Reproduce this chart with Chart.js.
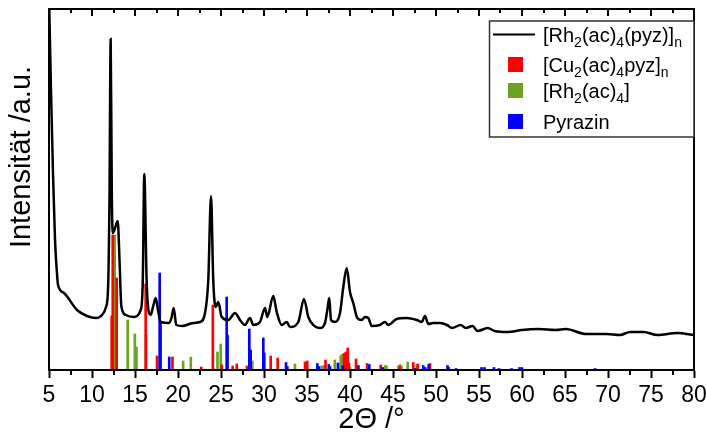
<!DOCTYPE html>
<html><head><meta charset="utf-8">
<script src="https://cdn.jsdelivr.net/npm/chart.js@4/dist/chart.umd.min.js"></script>
<style>html,body{margin:0;padding:0;background:#fff;}#wrap{width:706px;height:434px;}</style>
</head><body><div id="wrap"><canvas id="c" width="706" height="434"></canvas></div>
<script>
// ---- data (2Θ in degrees, intensity in arbitrary units) ----
const curveX = [5.0,5.23,5.47,5.70,5.90,6.05,6.74,8.26,9.42,10.47,11.16,11.63,11.86,12.03,12.17,12.31,12.44,12.99,13.20,13.41,13.92,14.88,15.66,15.90,16.08,16.36,16.63,16.83,17.09,17.41,17.67,17.99,18.95,19.24,19.50,19.80,20.50,21.74,22.56,23.14,23.52,23.84,24.10,24.38,24.69,25.08,25.85,26.63,27.21,27.79,28.37,28.76,29.53,30.12,30.38,31.08,31.48,32.06,32.64,33.02,33.99,34.65,35.15,35.73,36.51,37.09,37.36,37.59,37.79,38.26,38.84,39.22,39.62,40.00,40.38,40.85,41.36,41.74,42.13,42.52,43.49,44.07,44.45,45.43,46.59,47.76,48.34,48.72,49.10,49.69,50.47,51.28,51.86,52.87,53.47,54.24,54.84,56.02,56.81,58.37,59.97,61.93,63.91,65.09,67.44,69.81,71.40,72.56,74.15,75.73,78.09,80.0];
const curveY = [375,280,195,130,100,85,77,60,54,52,55,63,80,170,331,170,137,149,110,64,55,53,60,87,196,87,57,55,63,72,60,48,47,52,62,45,44,47,48,57,90,174,90,63,68,53,50,57,50,45,52,45,48,62,53,74,58,45,48,43,48,71,53,45,42,47,60,72,50,48,57,83,102,78,67,52,50,53,52,44,45,48,45,51,52,50,48,54,46,47,47,45,42,45,42,44,39,42,39,38,40,41,40,41,36,36,35,38,38,35,37,35];

const cuX = [12.29,12.41,12.87,16.24,17.56,19.36,22.70,24.05,25.08,26.36,26.83,28.02,30.78,31.59,34.77,35.03,37.15,39.30,39.51,39.73,39.88,40.70,41.98,43.57,45.80,47.36,47.87,49.30];
const cuY = [54,135,92,86,14,13,3,65,5,4,6,4,14,12,8,9,10,16.5,18,22,7,11,6.5,5,3.5,7.5,6,6.5];

const rhX = [12.64,14.15,14.98,15.17,16.28,20.60,21.49,24.59,24.97,25.10,28.64,33.60,34.95,36.74,36.98,38.23,38.92,39.07,40.00,44.10,44.24,45.64,45.85,46.00,46.71,47.76];
const rhY = [135,50,36,23,35,9,13,18,26,5,9,6,8,4,4.5,10,14,15.5,3,4.5,4,4.5,5.5,3.5,8,5];

const pyzX = [17.87,17.97,18.98,25.66,25.76,28.29,28.45,29.92,30.03,32.56,32.71,36.20,36.40,37.53,37.67,38.60,39.15,40.97,42.24,43.80,47.56,48.52,48.76,49.15,51.34,51.48,52.33,55.29,55.64,56.74,57.33,58.79,59.71,59.98,68.49];
const pyzY = [97,47,13,73,35,41,20,32,17,7.5,3.5,6.5,3.5,5.5,3.5,7,4,4.5,5.5,2.5,1.5,4.5,2.5,5.5,4.5,2.5,1.5,2.5,2.5,2.5,1.5,1.5,2.5,2.5,1.5];

const seriesLabels = ['[Rh_{2}(ac)_{4}(pyz)]_{n}', '[Cu_{2}(ac)_{4}pyz]_{n}', '[Rh_{2}(ac)_{4}]', 'Pyrazin'];
const seriesColors = ['#000000', '#FF0000', '#6BA422', '#0000FF'];
const xTitle = '2\u0398 /\u00B0';
const yTitle = 'Intensit\u00E4t /a.u.';
const xMin = 5, xMax = 80, xMajor = 5, xMinor = 2.5;
const yMin = 0, yMax = 361;

const FONT = '"Liberation Sans", Arial, sans-serif';
const pts = (xs, ys) => xs.map((x, i) => ({x, y: ys[i]}));

function drawRich(ctx, str, x, y, size, subSize, subDy) {
  const parts = str.split(/(_\{[^}]*\})/);
  for (const p of parts) {
    if (!p) continue;
    if (p.startsWith('_{')) {
      const t = p.slice(2, -1);
      ctx.font = subSize + 'px ' + FONT;
      ctx.fillText(t, x, y + subDy);
      x += ctx.measureText(t).width;
    } else {
      ctx.font = size + 'px ' + FONT;
      ctx.fillText(p, x, y);
      x += ctx.measureText(p).width;
    }
  }
}

const framePlugin = {
  id: 'frame',
  afterDraw(chart) {
    const {ctx, chartArea: a, scales: {x}} = chart;
    ctx.save();
    ctx.strokeStyle = '#000';
    ctx.lineWidth = 2;
    ctx.strokeRect(a.left, a.top, a.right - a.left, a.bottom - a.top);
    for (let v = xMin; v <= xMax + 1e-9; v += xMinor) {
      const px = Math.round(x.getPixelForValue(v));
      const major = Math.abs(v / xMajor - Math.round(v / xMajor)) < 1e-9;
      ctx.beginPath(); ctx.moveTo(px, a.top); ctx.lineTo(px, a.top + (major ? 7 : 4)); ctx.stroke();
      if (!major) { ctx.beginPath(); ctx.moveTo(px, a.bottom); ctx.lineTo(px, a.bottom + 5); ctx.stroke(); }
    }
    // y title
    ctx.fillStyle = '#000';
    ctx.font = '29px ' + FONT;
    ctx.textAlign = 'center';
    ctx.textBaseline = 'middle';
    ctx.translate(22, 157);
    ctx.rotate(-Math.PI / 2);
    ctx.fillText(yTitle, 0, 0);
    ctx.setTransform(1, 0, 0, 1, 0, 0);
    // legend
    const bx = 489.5, by = 21, bw = a.right - 489.5, bh = 116;
    ctx.fillStyle = '#fff';
    ctx.fillRect(bx, by, bw, bh);
    ctx.strokeStyle = '#333';
    ctx.lineWidth = 1.5;
    ctx.strokeRect(bx, by, bw, bh);
    const baselines = [42, 72, 98, 129];
    ctx.textAlign = 'left';
    ctx.textBaseline = 'alphabetic';
    seriesLabels.forEach((lab, i) => {
      const bl = baselines[i];
      if (i === 0) {
        ctx.strokeStyle = seriesColors[0]; ctx.lineWidth = 2;
        ctx.beginPath(); ctx.moveTo(493, 34.5); ctx.lineTo(535, 34.5); ctx.stroke();
      } else {
        ctx.fillStyle = seriesColors[i];
        ctx.fillRect(508, bl - 15, 15, 15);
      }
      ctx.fillStyle = '#000';
      drawRich(ctx, lab, 543, bl, 20, 14, 5);
    });
    ctx.restore();
  }
};

Chart.defaults.font.family = FONT;
new Chart(document.getElementById('c'), {
  type: 'bar',
  data: {
    datasets: [
      {type: 'line', label: seriesLabels[0], data: pts(curveX, curveY), borderColor: seriesColors[0], borderWidth: 2.5, pointRadius: 0, cubicInterpolationMode: 'monotone', order: 0},
      {label: seriesLabels[1], data: pts(cuX, cuY), backgroundColor: seriesColors[1], barThickness: 2, grouped: false, order: 2},
      {label: seriesLabels[2], data: pts(rhX, rhY), backgroundColor: seriesColors[2], barThickness: 2, grouped: false, order: 3},
      {label: seriesLabels[3], data: pts(pyzX, pyzY), backgroundColor: seriesColors[3], barThickness: 2, grouped: false, order: 1}
    ]
  },
  options: {
    responsive: false,
    devicePixelRatio: 1,
    animation: false,
    layout: {padding: {top: 9, right: 12, left: 0, bottom: 0}},
    plugins: {legend: {display: false}, tooltip: {enabled: false}},
    scales: {
      x: {
        type: 'linear', min: xMin, max: xMax, offset: false, position: 'bottom',
        ticks: {stepSize: xMajor, color: '#000', font: {size: 23}, padding: 4, maxRotation: 0, autoSkip: false},
        grid: {display: true, offset: false, drawOnChartArea: false, drawTicks: true, tickLength: 8, tickWidth: 2, tickColor: '#000'},
        border: {display: true, color: '#000', width: 2},
        title: {display: true, text: xTitle, color: '#000', font: {size: 29}, padding: {top: 0, bottom: -3}},
        afterFit: s => { s.height = 64; s.paddingLeft = 0; s.paddingRight = 0; }
      },
      y: {
        min: yMin, max: yMax,
        ticks: {display: false},
        grid: {display: false},
        border: {display: true, color: '#000', width: 2},
        afterFit: s => { s.width = 49; }
      }
    }
  },
  plugins: [framePlugin]
});
</script>
</body></html>
